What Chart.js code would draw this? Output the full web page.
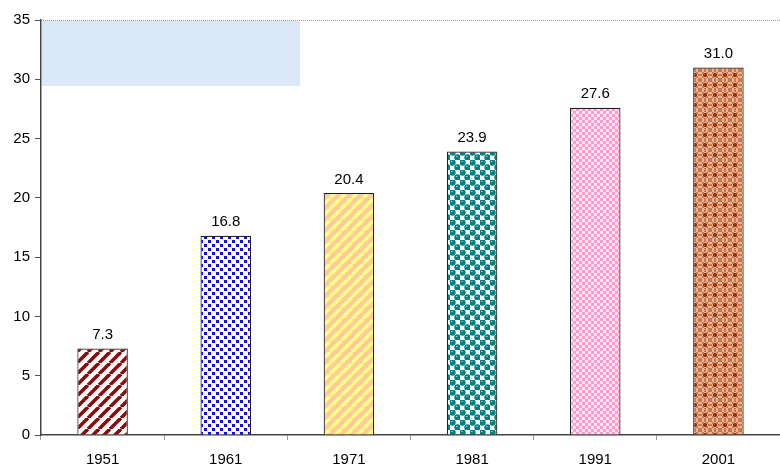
<!DOCTYPE html>
<html>
<head>
<meta charset="utf-8">
<script src="https://cdn.jsdelivr.net/npm/chart.js@4.4.1/dist/chart.umd.min.js"></script>
<style>
  html, body { margin: 0; padding: 0; background: #fff; }
  #wrap { width: 780px; height: 469px; }
</style>
</head>
<body>
<div id="wrap"><canvas id="c" width="780" height="469"></canvas></div>
<script>
// ---- data ----
const years  = ['1951', '1961', '1971', '1981', '1991', '2001'];
const values = [7.3, 16.8, 20.4, 23.9, 27.6, 31.0];
const yTicks = [0, 5, 10, 15, 20, 25, 30, 35];

const FONT = '"Liberation Sans", Arial, sans-serif';

// ---- pattern helpers ----
function tile(size, draw) {
  const cv = document.createElement('canvas');
  cv.width = size; cv.height = size;
  const g = cv.getContext('2d');
  draw(g, size);
  return g.createPattern(cv, 'repeat');
}
function stripes(bg, fg, size, w) {
  return tile(size, (g, s) => {
    g.fillStyle = bg; g.fillRect(0, 0, s, s);
    g.strokeStyle = fg; g.lineWidth = w;
    for (let k = -1; k <= 1; k++) {
      g.beginPath(); g.moveTo(k * s, s); g.lineTo(k * s + s, 0); g.stroke();
    }
  });
}

const fills = [
  stripes('#ffffff', '#8b0a0a', 11, 3.6),
  tile(8, (g, s) => {
    g.fillStyle = '#ffffff'; g.fillRect(0, 0, s, s);
    g.fillStyle = '#1010e8';
    g.fillRect(0, 0, 3, 3); g.fillRect(4, 4, 3, 3);
  }),
  stripes('#ffcc99', '#ffff88', 11, 3.4),
  tile(10, (g, s) => {
    g.fillStyle = '#ffffff'; g.fillRect(0, 0, s, s);
    g.fillStyle = '#008080';
    g.beginPath(); g.arc(2.5, 2.5, 3.2, 0, Math.PI * 2); g.fill();
    g.beginPath(); g.arc(7.5, 7.5, 3.2, 0, Math.PI * 2); g.fill();
    g.fillRect(1, 1, 3, 3); g.fillRect(6, 6, 3, 3);
    g.fillStyle = '#8fd0d0';
    g.fillRect(1, 1, 1.5, 1); g.fillRect(6, 6, 1.5, 1);
  }),
  tile(6, (g, s) => {
    g.fillStyle = '#ffe4f2'; g.fillRect(0, 0, s, s);
    g.fillStyle = '#ff99cc';
    g.fillRect(0, 0, 3, 3); g.fillRect(3, 3, 3, 3);
  }),
  tile(10, (g, s) => {
    g.fillStyle = '#e8b494'; g.fillRect(0, 0, s, s);
    g.fillStyle = '#c87850';
    for (let i = 0; i < s; i += 2)
      for (let j = (i / 2) % 2 * 2; j < s; j += 4) g.fillRect(j, i, 2, 2);
    g.fillStyle = '#a03000';
    g.fillRect(4, 3, 2, 4); g.fillRect(3, 4, 4, 2);
  })
];

// ---- plugins ----
const decor = {
  id: 'decor',
  beforeDatasetsDraw(chart) {
    const { ctx, chartArea: a } = chart;
    ctx.save();
    ctx.strokeStyle = '#999'; ctx.lineWidth = 1; ctx.setLineDash([1, 1]);
    ctx.beginPath(); ctx.moveTo(a.left, a.top + 0.5); ctx.lineTo(a.right, a.top + 0.5); ctx.stroke();
    ctx.setLineDash([]);
    ctx.fillStyle = '#dbe8f8';
    ctx.fillRect(a.left + 1, a.top + 1, 258, 65);
    ctx.restore();
  },
  afterDatasetsDraw(chart) {
    const { ctx } = chart;
    const meta = chart.getDatasetMeta(0);
    ctx.save();
    ctx.fillStyle = '#000';
    ctx.font = '15px ' + FONT;
    ctx.textAlign = 'center'; ctx.textBaseline = 'bottom';
    meta.data.forEach((bar, i) => {
      ctx.fillText(values[i].toFixed(1), bar.x, bar.y - 6);
    });
    ctx.restore();
  }
};

new Chart(document.getElementById('c'), {
  type: 'bar',
  data: {
    labels: years,
    datasets: [{
      data: values,
      backgroundColor: fills,
      borderColor: '#222',
      borderWidth: 1.2,
      categoryPercentage: 1,
      barPercentage: 0.41
    }]
  },
  options: {
    responsive: false,
    animation: false,
    layout: { padding: { top: 20, right: 0, left: 0, bottom: 0 } },
    plugins: { legend: { display: false }, tooltip: { enabled: false } },
    scales: {
      x: {
        grid: { drawOnChartArea: false, color: '#999', tickLength: 5, offset: true },
        border: { color: '#444', width: 1.5 },
        ticks: { color: '#000', font: { family: FONT, size: 15 }, padding: 11 },
        afterFit(s) { s.height = 34; }
      },
      y: {
        min: 0, max: 35,
        afterBuildTicks(s) { s.ticks = yTicks.map(v => ({ value: v })); },
        grid: { drawOnChartArea: false, color: '#555', tickLength: 6 },
        border: { color: '#444', width: 1.5 },
        ticks: { color: '#000', font: { family: FONT, size: 15 }, padding: 5 },
        afterFit(s) { s.width = 41; }
      }
    }
  },
  plugins: [decor]
});
</script>
</body>
</html>
